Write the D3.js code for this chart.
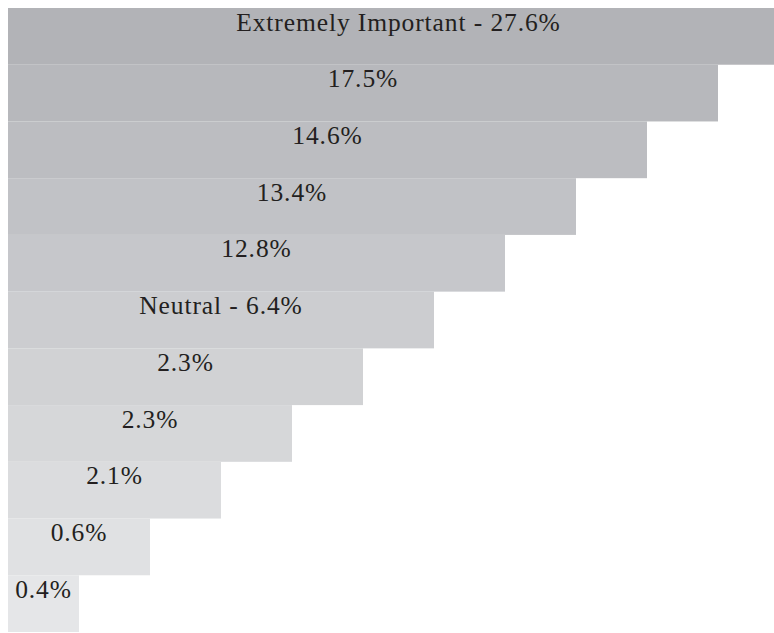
<!DOCTYPE html>
<html><head><meta charset="utf-8">
<script src="https://cdn.jsdelivr.net/npm/d3@7"></script>
<style>html,body{margin:0;padding:0;background:#fff;overflow:hidden}</style>
</head><body>
<svg id="c" width="774" height="633"></svg>
<script>
const categories = ["Extremely Important", "", "", "", "", "Neutral", "", "", "", "", ""];
const values = [27.6, 17.5, 14.6, 13.4, 12.8, 6.4, 2.3, 2.3, 2.1, 0.6, 0.4];

const W = 774, H = 633;
const svg = d3.select("#c");
const idx = d3.range(values.length);
const y = d3.scaleBand().domain(idx).range([8, 632]).padding(0);
const w = d3.scaleLinear().domain([0, values.length - 1]).range([781, 71]);
const color = d3.scaleLinear().domain([0, values.length - 1]).range(["#b2b3b7", "#e5e6e8"]);
const x0 = 8;

const g = svg.selectAll("g.row").data(idx).join("g").attr("class", "row");
g.append("rect")
  .attr("x", x0)
  .attr("y", i => y(i))
  .attr("width", i => w(i))
  .attr("height", y.bandwidth())
  .attr("fill", i => color(i));
g.append("text")
  .attr("x", i => x0 + w(i) / 2)
  .attr("y", i => y(i) + 22.5)
  .attr("text-anchor", "middle")
  .attr("font-family", "Liberation Serif, serif")
  .attr("font-size", 25.5)
  .attr("letter-spacing", 0.9)
  .attr("fill", "#231f20")
  .text(i => (categories[i] ? categories[i] + " - " : "") + values[i].toFixed(1) + "%");
</script>
</body></html>
